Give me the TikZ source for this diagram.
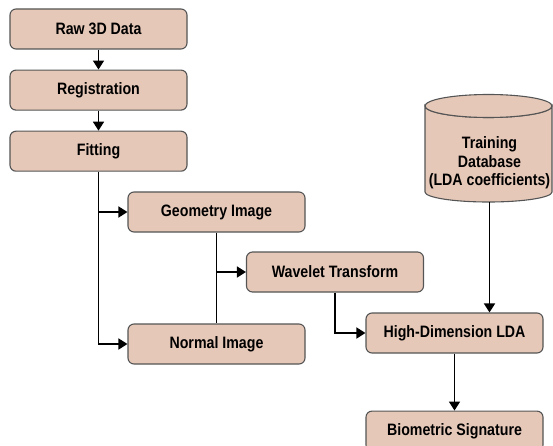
\documentclass[tikz,border=0pt]{standalone}
\usepackage{fontspec}
\setmainfont{Liberation Sans}[FakeStretch=0.86]
\usetikzlibrary{arrows.meta, positioning}
\definecolor{stagefill}{HTML}{E6C8B8}
\definecolor{stageline}{HTML}{555555}
\tikzset{
  >={Triangle[length=9pt, width=11pt]},
  stage/.style={rectangle, rounded corners=6pt, draw=stageline, line width=1.1pt, fill=stagefill,
                minimum width=177pt, minimum height=40pt, align=center,
                font=\fontsize{16.5}{18}\selectfont\bfseries},
  store/.style={draw=stageline, line width=1.1pt, fill=stagefill},
  storetext/.style={align=center, inner sep=1pt, font=\fontsize{16.5}{18.5}\selectfont\bfseries},
  flow/.style={->, line width=1.6pt},
  link/.style={line width=1.6pt},
}

\begin{document}
\begin{tikzpicture}[x=1pt, y=-1pt]
  \useasboundingbox (0,0) rectangle (553,446);
  % left column
  \node[stage] (raw) at (98.5,29) {Raw 3D Data};
  \node[stage, below=20pt of raw] (reg) {Registration};
  \node[stage, below=20pt of reg] (fit) {Fitting};
  % image branch
  \node[stage] (geo) at (216.5,212) {Geometry Image};
  \node[stage] (wav) at (335,272) {Wavelet Transform};
  \node[stage] (nrm) at (216.5,344) {Normal Image};
  % database drum
  \path[store] (425,106) -- (425,192) arc[start angle=180, end angle=0, x radius=63.5, y radius=10]
    -- (552,106) arc[start angle=0, end angle=180, x radius=63.5, y radius=11.5] -- cycle;
  \draw[store] (488.5,106) ellipse[x radius=63.5, y radius=11.5];
  \node[storetext] (db) at (489.5,163) {Training\\Database\\(LDA coefficients)};
  \coordinate (dbbase) at (db |- 0,202);
  % right column
  \node[stage] (lda) at (454.5,333) {High-Dimension LDA};
  \node[stage, below=57pt of lda] (bio) {Biometric Signature};

  \draw[flow] (raw) -- (reg);
  \draw[flow] (reg) -- (fit);
  \coordinate (fork) at (fit.south |- geo.west);
  \draw[flow] (fit.south) |- (nrm.west);
  \draw[flow] (fork) -- (geo.west);
  \coordinate (split) at (geo.south |- wav.west);
  \draw[link] (geo.south) -- (nrm.north);
  \draw[flow] (split) -- (wav.west);
  \draw[flow] (wav.south) |- (lda.west);
  \draw[flow] (dbbase) -- (dbbase |- lda.north);
  \draw[flow] (lda) -- (bio);
\end{tikzpicture}
\end{document}
